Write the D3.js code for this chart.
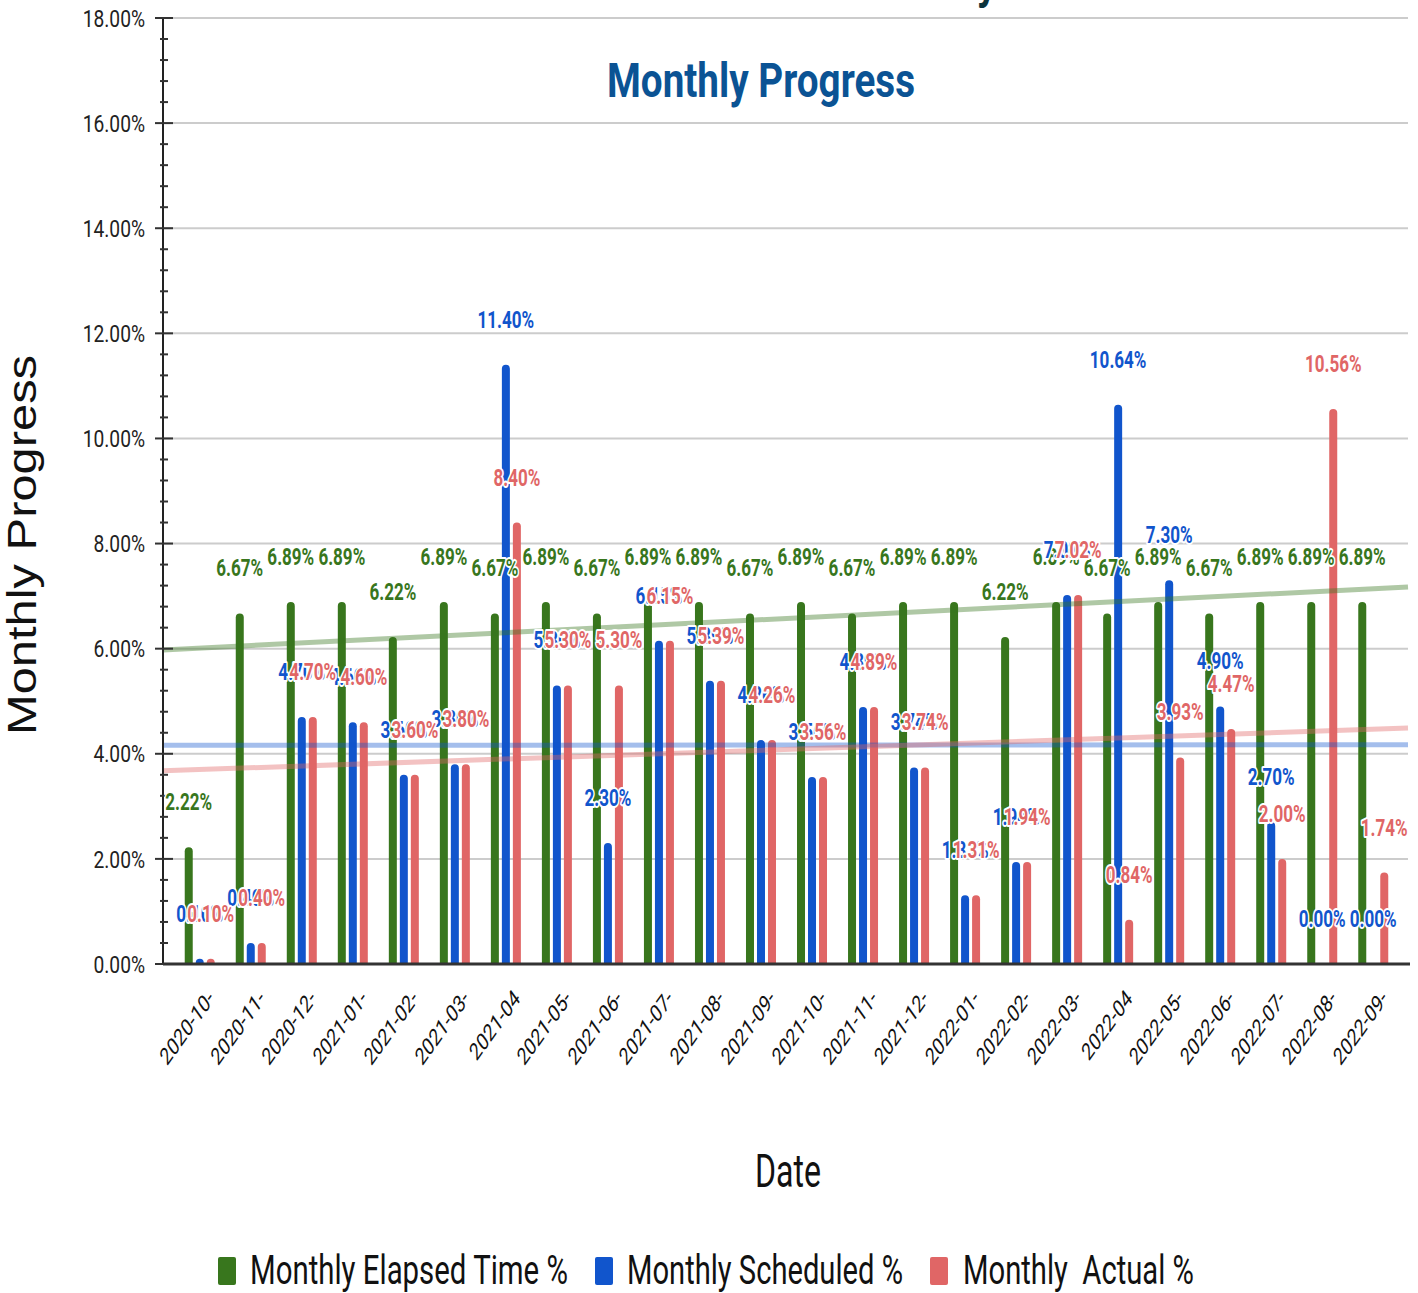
<!DOCTYPE html>
<html>
<head>
<meta charset="utf-8">
<script src="https://cdn.jsdelivr.net/npm/d3@7"></script>
<style>
  html, body { margin: 0; padding: 0; background: #ffffff; }
  svg { display: block; }
  text { font-family: Roboto, "Liberation Sans", Arial, sans-serif; }
</style>
</head>
<body>
<svg id="chart" width="1418" height="1293"></svg>
<script>
// ---------------- DATA ----------------
const months = ["2020-10","2020-11","2020-12","2021-01","2021-02","2021-03","2021-04","2021-05","2021-06","2021-07","2021-08","2021-09",
                "2021-10","2021-11","2021-12","2022-01","2022-02","2022-03","2022-04","2022-05","2022-06","2022-07","2022-08","2022-09"];
const xTickLabels = ["2020-10-","2020-11-","2020-12-","2021-01-","2021-02-","2021-03-","2021-04","2021-05-","2021-06-","2021-07-","2021-08-","2021-09-",
                     "2021-10-","2021-11-","2021-12-","2022-01-","2022-02-","2022-03-","2022-04","2022-05-","2022-06-","2022-07-","2022-08-","2022-09-"];
const seriesNames = ["Monthly Elapsed Time %", "Monthly Scheduled %", "Monthly  Actual %"];
const elapsed   = [2.22, 6.67, 6.89, 6.89, 6.22, 6.89, 6.67, 6.89, 6.67, 6.89, 6.89, 6.67,
                   6.89, 6.67, 6.89, 6.89, 6.22, 6.89, 6.67, 6.89, 6.67, 6.89, 6.89, 6.89];
const scheduled = [0.10, 0.40, 4.70, 4.60, 3.60, 3.80, 11.40, 5.30, 2.30, 6.15, 5.39, 4.26,
                   3.56, 4.89, 3.74, 1.31, 1.94, 7.02, 10.64, 7.30, 4.90, 2.70, 0.00, 0.00];
const actual    = [0.10, 0.40, 4.70, 4.60, 3.60, 3.80, 8.40, 5.30, 5.30, 6.15, 5.39, 4.26,
                   3.56, 4.89, 3.74, 1.31, 1.94, 7.02, 0.84, 3.93, 4.47, 2.00, 10.56, 1.74];
const yTickValues = [0, 2, 4, 6, 8, 10, 12, 14, 16, 18];
const yTickLabels = ["0.00%","2.00%","4.00%","6.00%","8.00%","10.00%","12.00%","14.00%","16.00%","18.00%"];
const chartTitle = "Monthly Progress";
const xTitle = "Date";
const yTitle = "Monthly Progress";
const topTitle = "Status Summary";

// ---------------- STYLE / LAYOUT ----------------
const colors = ["#38761d", "#1155cc", "#e06666"];
const trendColors = ["#38761d", "#1155cc", "#e06666"];
const seriesValues = [elapsed, scheduled, actual];
const plotLeft = 163, plotRight = 1410, plotTop = 18, plotBottom = 964;

const svg = d3.select("#chart");

const x = d3.scaleBand().domain(months).range([plotLeft, plotRight]).paddingOuter(0.22).paddingInner(0);
const xs = d3.scaleBand().domain(seriesNames).range([-16.5, 16.5]);
const y = d3.scaleLinear().domain([0, 18]).range([plotBottom, plotTop]);
const barW = 8;
const cx = (m, s) => x(m) + x.bandwidth() / 2 + xs(s) + xs.bandwidth() / 2;

// gridlines
svg.append("g").selectAll("line").data(yTickValues).join("line")
  .attr("x1", plotLeft).attr("x2", 1408)
  .attr("y1", d => y(d)).attr("y2", d => y(d))
  .attr("stroke", "#cccccc").attr("stroke-width", 2);

// bars
function barPath(xc, v) {
  const y0 = y(0), y1 = y(v);
  const h = y0 - y1;
  if (h <= 0) return "";
  const r = Math.min(barW / 2, h);
  const xl = xc - barW / 2, xr = xc + barW / 2;
  return `M${xl},${y0} L${xl},${y1 + r} A${barW/2},${r} 0 0 1 ${xr},${y1 + r} L${xr},${y0} Z`;
}
seriesNames.forEach((s, si) => {
  svg.append("g").selectAll("path").data(seriesValues[si]).join("path")
    .attr("d", (v, i) => barPath(cx(months[i], s), v))
    .attr("fill", colors[si]);
});

// trend lines (least squares on month index)
const c0 = x(months[0]) + x.bandwidth() / 2;
const step = x.step();
seriesValues.forEach((vals, si) => {
  const xm = d3.mean(vals, (v, i) => i);
  const ym = d3.mean(vals);
  const b = d3.sum(vals, (v, i) => (i - xm) * (v - ym)) / d3.sum(vals, (v, i) => (i - xm) * (i - xm));
  const a = ym - b * xm;
  const pts = [plotLeft, 1408].map(px => { const i = (px - c0) / step; return [px, y(a + b * i)]; });
  svg.append("path")
    .attr("d", d3.line()(pts))
    .attr("stroke", trendColors[si]).attr("stroke-opacity", si === 1 ? 0.38 : 0.4)
    .attr("stroke-width", 5).attr("fill", "none");
});

// y axis
const yAxisG = svg.append("g");
yAxisG.append("line").attr("x1", plotLeft).attr("x2", plotLeft).attr("y1", plotTop).attr("y2", plotBottom)
  .attr("stroke", "#222").attr("stroke-width", 2);
const minor = d3.range(0, 18.001, 0.4).filter(v => Math.abs(v / 2 - Math.round(v / 2)) > 0.01);
yAxisG.selectAll("line.minor").data(minor).join("line").attr("class", "minor")
  .attr("x1", plotLeft - 3).attr("x2", plotLeft + 5).attr("y1", d => y(d)).attr("y2", d => y(d))
  .attr("stroke", "#333").attr("stroke-width", 2);
yAxisG.selectAll("line.major").data(yTickValues).join("line").attr("class", "major")
  .attr("x1", plotLeft - 8).attr("x2", plotLeft + 10).attr("y1", d => y(d)).attr("y2", d => y(d))
  .attr("stroke", "#333").attr("stroke-width", 2);
yAxisG.selectAll("text").data(yTickValues).join("text")
  .attr("transform", d => `translate(145,${y(d)}) scale(0.8,1)`)
  .attr("text-anchor", "end").attr("dy", "0.36em")
  .attr("font-size", 24).attr("fill", "#222")
  .text((d, i) => yTickLabels[i]);

// x axis
svg.append("line").attr("x1", plotLeft).attr("x2", plotRight).attr("y1", plotBottom).attr("y2", plotBottom)
  .attr("stroke", "#333").attr("stroke-width", 3);
svg.append("g").selectAll("text").data(months).join("text")
  .attr("transform", d => `translate(${x(d) + x.bandwidth() / 2 + 11},${plotBottom + 30}) scale(0.72,1) rotate(-45)`)
  .attr("text-anchor", "end").attr("dy", "0.35em")
  .attr("font-size", 24).attr("fill", "#111")
  .text((d, i) => xTickLabels[i]);

// data labels
seriesNames.forEach((s, si) => {
  svg.append("g").selectAll("text").data(seriesValues[si]).join("text")
    .attr("transform", (v, i) => `translate(${cx(months[i], s)},${y(v) - 37}) scale(0.71,1)`)
    .attr("text-anchor", "middle")
    .attr("font-size", 24).attr("font-weight", "bold")
    .attr("fill", colors[si])
    .attr("stroke", "#ffffff").attr("stroke-width", 4).attr("stroke-linejoin", "round")
    .attr("paint-order", "stroke")
    .text(v => d3.format(".2f")(v) + "%");
});

// titles
svg.append("text").attr("x", 997).attr("y", -1)
  .attr("text-anchor", "end").attr("font-size", 44).attr("font-weight", "bold")
  .attr("fill", "#0c343d").attr("textLength", 300).attr("lengthAdjust", "spacingAndGlyphs")
  .text(topTitle);
svg.append("text").attr("x", 607).attr("y", 97)
  .attr("font-size", 48).attr("font-weight", "bold").attr("fill", "#0b5394")
  .attr("textLength", 308).attr("lengthAdjust", "spacingAndGlyphs")
  .text(chartTitle);
svg.append("text").attr("x", 755).attr("y", 1187)
  .attr("font-size", 46).attr("fill", "#111")
  .attr("textLength", 66).attr("lengthAdjust", "spacingAndGlyphs")
  .text(xTitle);
svg.append("text")
  .attr("transform", "translate(36,735) rotate(-90)")
  .style("font-family", "'Liberation Sans', Arial, sans-serif")
  .attr("font-size", 40).attr("fill", "#111")
  .attr("textLength", 380).attr("lengthAdjust", "spacingAndGlyphs")
  .text(yTitle);

// legend
const legendItems = [
  { sq: 218, tx: 250, tw: 318 },
  { sq: 595, tx: 627, tw: 276 },
  { sq: 930, tx: 963, tw: 231 }
];
const lg = svg.append("g");
legendItems.forEach((it, i) => {
  lg.append("rect").attr("x", it.sq).attr("y", 1257).attr("width", 18).attr("height", 28)
    .attr("rx", 2).attr("fill", colors[i]);
  lg.append("text").attr("x", it.tx).attr("y", 1284)
    .style("white-space", "pre")
    .attr("font-size", 40).attr("fill", "#111")
    .attr("textLength", it.tw).attr("lengthAdjust", "spacingAndGlyphs")
    .text(seriesNames[i]);
});
</script>
</body>
</html>
